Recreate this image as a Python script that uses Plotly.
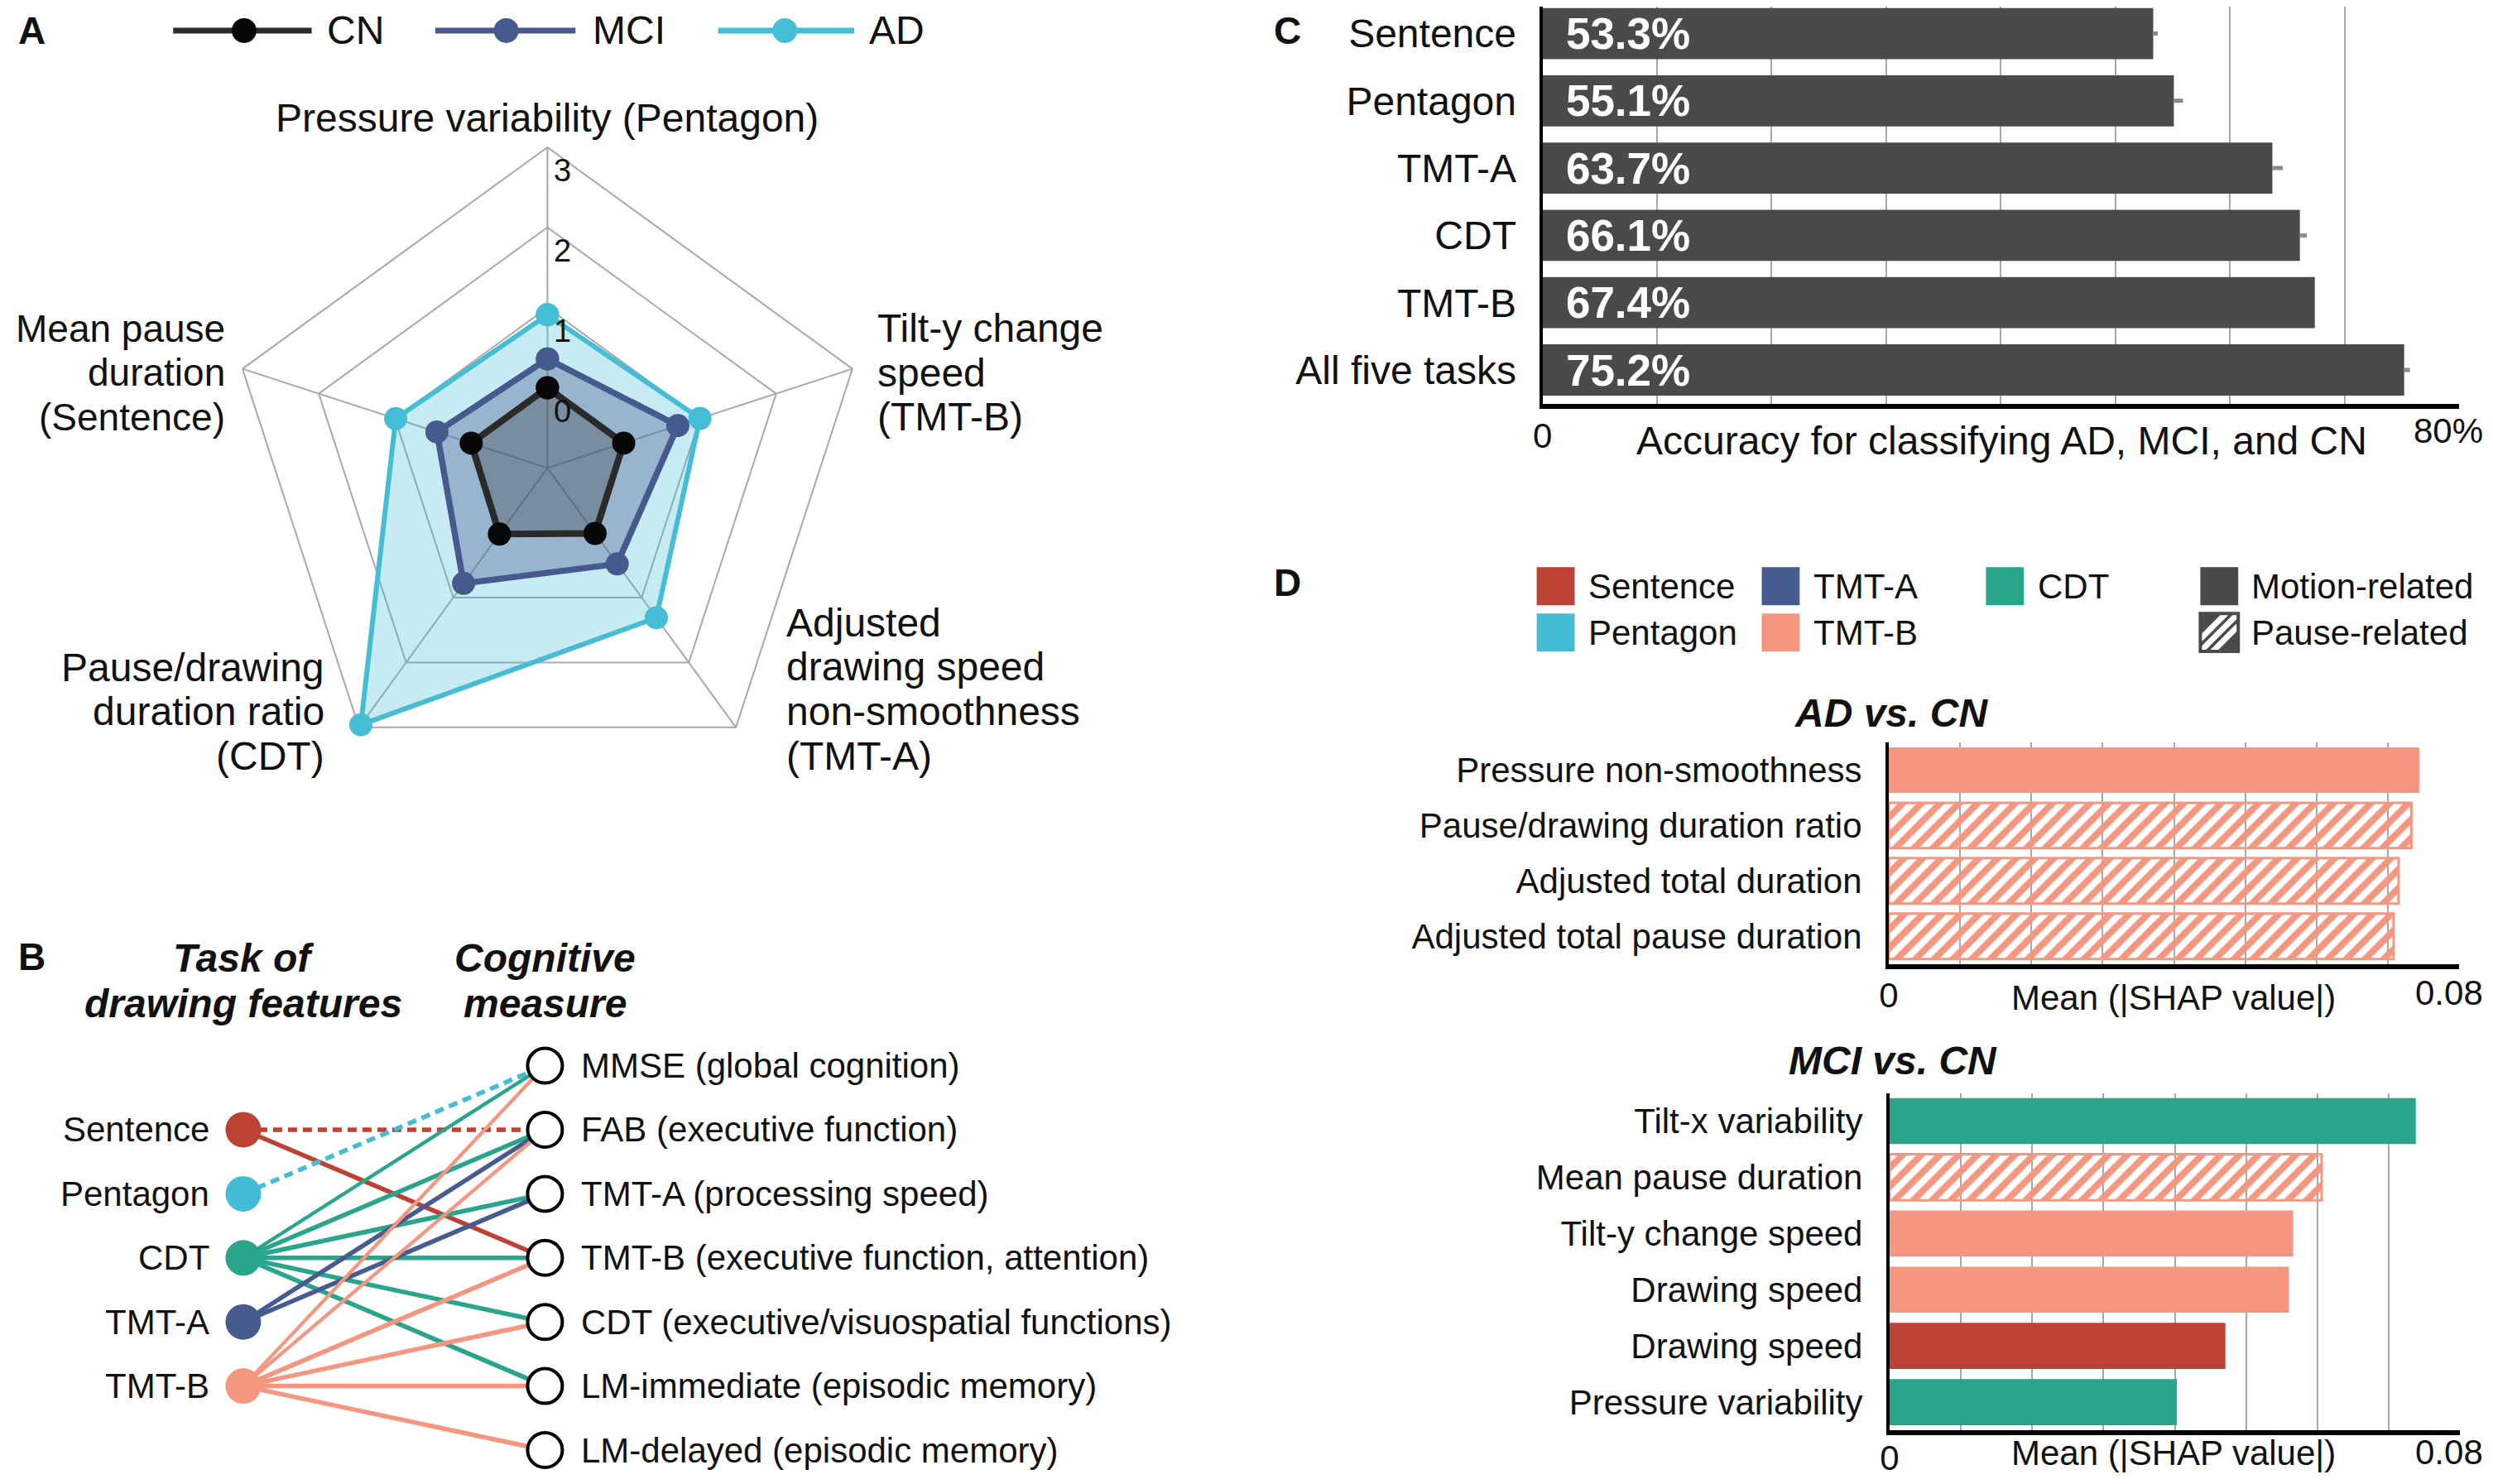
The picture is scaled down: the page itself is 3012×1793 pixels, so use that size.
import plotly.graph_objects as go

# target picture size; the browser keeps its default 8px body margin
W, H = 3012, 1793
PAD = 8
FW, FH = W - 2 * PAD, H - 2 * PAD
FONT = "Liberation Sans, Arial, Helvetica, sans-serif"
INK = "#111111"


def X(p):
    return (p - PAD) / FW


def Y(p):
    return 1 - (p - PAD) / FH


# ---------------- Panel A data ----------------
radar_features = [
    "Pressure variability (Pentagon)",
    "Tilt-y change speed (TMT-B)",
    "Adjusted drawing speed non-smoothness (TMT-A)",
    "Pause/drawing duration ratio (CDT)",
    "Mean pause duration (Sentence)",
]
radar_label_lines = [
    ["Pressure variability (Pentagon)"],
    ["Tilt-y change", "speed", "(TMT-B)"],
    ["Adjusted", "drawing speed", "non-smoothness", "(TMT-A)"],
    ["Pause/drawing", "duration ratio", "(CDT)"],
    ["Mean pause", "duration", "(Sentence)"],
]
radar_groups = ["CN", "MCI", "AD"]
radar_cn = [0.0, 0.0, 0.01, 0.02, 0.0]
radar_mci = [0.36, 0.71, 0.48, 0.78, 0.45]
radar_ad = [0.91, 1.00, 1.31, 2.96, 0.99]
radar_ticks = [0, 1, 2, 3]
radar_axis_min, radar_axis_max = -1, 3   # the centre of the radar is -1

# ---------------- Panel B data ----------------
task_names = ["Sentence", "Pentagon", "CDT", "TMT-A", "TMT-B"]
measure_short = ["MMSE", "FAB", "TMT-A", "TMT-B", "CDT", "LM-immediate", "LM-delayed"]
measure_desc = ["global cognition", "executive function", "processing speed",
                "executive function, attention", "executive/visuospatial functions",
                "episodic memory", "episodic memory"]
edge_task = ["Sentence", "Sentence", "Pentagon",
             "CDT", "CDT", "CDT", "CDT", "CDT", "CDT",
             "TMT-A", "TMT-A",
             "TMT-B", "TMT-B", "TMT-B", "TMT-B", "TMT-B", "TMT-B"]
edge_measure = ["FAB", "TMT-B", "MMSE",
                "MMSE", "FAB", "TMT-A", "TMT-B", "CDT", "LM-immediate",
                "FAB", "TMT-A",
                "MMSE", "FAB", "TMT-B", "CDT", "LM-immediate", "LM-delayed"]
edge_dashed = [True, False, True,
               False, False, False, False, False, False,
               False, False,
               False, False, False, False, False, False]
edge_strong = [True, True, True,
               False, True, True, True, True, True,
               True, True,
               False, False, True, True, True, True]

# ---------------- Panel C data ----------------
acc_tasks = ["Sentence", "Pentagon", "TMT-A", "CDT", "TMT-B", "All five tasks"]
acc_values = [53.3, 55.1, 63.7, 66.1, 67.4, 75.2]
acc_errors = [0.4, 0.8, 0.9, 0.6, 0.0, 0.5]
acc_range = [0, 80]
acc_tick_labels = ["0", "80%"]

# ---------------- Panel D data ----------------
ad_features = ["Pressure non-smoothness", "Pause/drawing duration ratio",
               "Adjusted total duration", "Adjusted total pause duration"]
ad_values = [0.0744, 0.0733, 0.0715, 0.0708]
ad_tasks = ["TMT-B", "TMT-B", "TMT-B", "TMT-B"]
ad_kinds = ["Motion-related", "Pause-related", "Pause-related", "Pause-related"]

mci_features = ["Tilt-x variability", "Mean pause duration", "Tilt-y change speed",
                "Drawing speed", "Drawing speed", "Pressure variability"]
mci_values = [0.0738, 0.0606, 0.0566, 0.0560, 0.0471, 0.0403]
mci_tasks = ["CDT", "TMT-B", "TMT-B", "TMT-B", "Sentence", "CDT"]
mci_kinds = ["Motion-related", "Pause-related", "Motion-related",
             "Motion-related", "Motion-related", "Motion-related"]
shap_range = [0, 0.08]
shap_tick_labels = ["0", "0.08"]

feature_kinds = ["Motion-related", "Pause-related"]

# ---------------- styles ----------------
task_color = {"Sentence": "#bd4236", "Pentagon": "#44bdd4", "CDT": "#29a58b",
              "TMT-A": "#465b8e", "TMT-B": "#f59680"}
group_line = {"CN": "#2a2a2a", "MCI": "#465a8d", "AD": "#45bdd4"}
group_marker = {"CN": "#080808", "MCI": "#465a8d", "AD": "#45bdd4"}
group_fill = {"CN": "rgba(40,40,40,0.28)", "MCI": "rgba(71,90,140,0.37)",
              "AD": "rgba(69,189,212,0.30)"}
group_width = {"CN": 8, "MCI": 7.5, "AD": 6}
GRID = "#a8a8a8"
DARK = "#4a4a4c"
BIG, SMALL = 48, 42

fig = go.Figure()

# ================= Panel A : radar =================
# radial distance is measured from the radar centre (value -1), so the
# plotted radius is value - radar_axis_min; ticks are labelled with the values.
radar_values = {"CN": radar_cn, "MCI": radar_mci, "AD": radar_ad}
for g in ["AD", "MCI", "CN"]:
    v = [val - radar_axis_min for val in radar_values[g]]
    fig.add_trace(go.Scatterpolar(
        r=v + [v[0]], theta=radar_features + [radar_features[0]],
        mode="lines+markers", fill="toself", fillcolor=group_fill[g],
        line=dict(color=group_line[g], width=group_width[g]),
        marker=dict(size=28, color=group_marker[g], line=dict(width=0)),
        name=g, showlegend=False, hoverinfo="skip", subplot="polar"))

cx, cy, R = 652, 566, 389
polar = dict(
    domain=dict(x=[X(cx - R), X(cx + R)], y=[Y(cy + R), Y(cy - R)]),
    gridshape="linear", bgcolor="rgba(0,0,0,0)",
    angularaxis=dict(direction="clockwise", rotation=90, showticklabels=False,
                     ticks="", showgrid=True, gridcolor=GRID, gridwidth=2,
                     showline=True, linecolor=GRID, linewidth=2, layer="below traces",
                     categoryorder="array", categoryarray=radar_features),
    radialaxis=dict(range=[0, radar_axis_max - radar_axis_min],
                    tickvals=[t - radar_axis_min for t in radar_ticks],
                    ticktext=[str(t) for t in radar_ticks], showline=False,
                    showgrid=True, gridcolor=GRID, gridwidth=2, ticks="",
                    showticklabels=False, angle=90, layer="below traces"),
)

# ================= Panel B : network =================
col_task, col_measure = "Task of drawing features", "Cognitive measure"
offset = (len(measure_short) - len(task_names)) / 2
task_y = [i + offset for i in range(len(task_names))]
measure_y = list(range(len(measure_short)))
for s, t, d, strong in zip(edge_task, edge_measure, edge_dashed, edge_strong):
    fig.add_trace(go.Scatter(
        x=[col_task, col_measure],
        y=[task_y[task_names.index(s)], measure_y[measure_short.index(t)]],
        mode="lines",
        line=dict(color=task_color[s], width=5.5 if strong else 4.3,
                  dash="11px,7px" if d else "solid"),
        xaxis="x", yaxis="y", showlegend=False, hoverinfo="skip"))
fig.add_trace(go.Scatter(
    x=[col_task] * len(task_names), y=task_y, mode="markers",
    marker=dict(size=43, color=[task_color[t] for t in task_names], line=dict(width=0)),
    cliponaxis=False, xaxis="x", yaxis="y", showlegend=False, hoverinfo="skip"))
fig.add_trace(go.Scatter(
    x=[col_measure] * len(measure_short), y=measure_y, mode="markers",
    marker=dict(size=42, color="white", line=dict(color="black", width=4)),
    cliponaxis=False, xaxis="x", yaxis="y", showlegend=False, hoverinfo="skip"))
for t, yv in zip(task_names, task_y):
    fig.add_annotation(text=t, x=col_task, y=yv, xref="x", yref="y",
                       xanchor="right", xshift=-39, showarrow=False,
                       font=dict(size=SMALL, family=FONT, color=INK))
for m, dsc, yv in zip(measure_short, measure_desc, measure_y):
    fig.add_annotation(text=f"{m} ({dsc})", x=col_measure, y=yv, xref="x", yref="y",
                       xanchor="left", xshift=42, showarrow=False,
                       font=dict(size=SMALL, family=FONT, color=INK))
b_head = {col_task: ["Task of", "drawing features"], col_measure: ["Cognitive", "measure"]}
for col, lines in b_head.items():
    for k, ln in enumerate(lines):
        fig.add_annotation(text=ln, x=col, y=Y(1159 + 55 * k), xref="x", yref="paper",
                           xanchor="center", yanchor="middle", showarrow=False,
                           font=dict(size=BIG, family=FONT, color=INK,
                                     weight="bold", style="italic"))

# ================= Panel C : accuracy bars =================
fig.add_trace(go.Bar(
    x=acc_values, y=acc_tasks, orientation="h", width=0.76,
    marker=dict(color=DARK, line=dict(width=0)),
    error_x=dict(type="data", array=acc_errors, arrayminus=[0] * len(acc_errors),
                 symmetric=False, color="#8a8a8e", thickness=5, width=0),
    texttemplate="\u00a0\u2009%{x:.1f}%", textposition="inside",
    insidetextanchor="start", textangle=0, constraintext="none",
    textfont=dict(color="white", size=53, family=FONT, weight="bold"),
    xaxis="x2", yaxis="y2", showlegend=False, hoverinfo="skip"))


# ================= Panel D : SHAP bars =================
def shap_trace(vals, tasks, kinds, xa, ya):
    cols = [task_color[t] for t in tasks]
    return go.Bar(
        x=vals, y=list(range(len(vals))), orientation="h", width=0.82,
        marker=dict(
            color=cols,
            line=dict(color=cols, width=[3 if k == "Pause-related" else 0 for k in kinds]),
            pattern=dict(shape=["/" if k == "Pause-related" else "" for k in kinds],
                         fgcolor=cols, bgcolor="rgba(255,255,255,0)",
                         fillmode="replace", size=16, solidity=0.5)),
        xaxis=xa, yaxis=ya, showlegend=False, hoverinfo="skip")


fig.add_trace(shap_trace(ad_values, ad_tasks, ad_kinds, "x3", "y3"))
fig.add_trace(shap_trace(mci_values, mci_tasks, mci_kinds, "x4", "y4"))

# ================= axes =================
axis_off = dict(visible=False, showgrid=False, zeroline=False, fixedrange=True)
ux = 366.0  # px per column unit
uy = 77.5   # px per row
BX, BY = -5, 4  # small nudge of panel B
fig.update_layout(
    xaxis=dict(axis_off, type="category", categoryorder="array",
               categoryarray=[col_task, col_measure],
               domain=[X(258 + BX), X(684 + BX)], range=[-30 / ux, 1 + 30 / ux], anchor="y"),
    yaxis=dict(axis_off, domain=[Y(1780 + BY), Y(1255 + BY)],
               range=[len(measure_short) - 1 + 30 / uy, -30 / uy], anchor="x"),
)


def bar_x(dom, rng, labels, minor, standoff=-4):
    return dict(domain=dom, range=rng, tickvals=rng, ticktext=[labels[0], ""],
                showgrid=True, gridcolor=GRID, gridwidth=2,
                minor=dict(dtick=minor, showgrid=True, gridcolor=GRID, gridwidth=2, ticks=""),
                showline=True, linecolor="black", linewidth=6, zeroline=False,
                ticks="", ticklabelstandoff=standoff, fixedrange=True,
                tickfont=dict(size=SMALL, family=FONT, color=INK), layer="below traces")


def bar_y(dom, size, standoff):
    return dict(domain=dom, showgrid=False, zeroline=False, showline=True,
                linecolor="black", linewidth=4, ticks="", ticklabelstandoff=standoff,
                fixedrange=True, tickfont=dict(size=size, family=FONT, color=INK))


n_acc = len(acc_tasks)
fig.update_layout(
    xaxis2=dict(bar_x([X(1859), X(2971)], acc_range, acc_tick_labels, 10), anchor="y2"),
    yaxis2=dict(bar_y([Y(489), Y(8)], BIG, 18), type="category", categoryorder="array",
                categoryarray=acc_tasks, range=[n_acc - 0.49, -0.40], anchor="x2"),
    xaxis3=dict(bar_x([X(2279), X(2971)], shap_range, shap_tick_labels, 0.01), anchor="y3"),
    yaxis3=dict(bar_y([Y(1166), Y(898)], SMALL, 20), range=[len(ad_features) - 0.5, -0.5],
                tickvals=list(range(len(ad_features))), ticktext=ad_features, anchor="x3"),
    xaxis4=dict(bar_x([X(2280), X(2972)], shap_range, shap_tick_labels, 0.01, standoff=-8),
                anchor="y4"),
    yaxis4=dict(bar_y([Y(1730), Y(1322)], SMALL, 20), range=[len(mci_features) - 0.5, -0.5],
                tickvals=list(range(len(mci_features))), ticktext=mci_features, anchor="x4"),
)


# ================= text annotations =================
def ann(text, x, y, size=SMALL, anchor="center", bold=False, italic=False):
    fig.add_annotation(text=text, x=X(x), y=Y(y), xref="paper", yref="paper",
                       xanchor=anchor, yanchor="middle", showarrow=False,
                       font=dict(size=size, family=FONT, color=INK,
                                 weight="bold" if bold else "normal",
                                 style="italic" if italic else "normal"))


# panel letters
for letter, (lx, ly) in zip("ABCD", [(27, 37), (27, 1157), (1550, 37), (1550, 705)]):
    ann(letter, lx, ly, size=46, bold=True)

# radial tick labels (just right of the top spoke, a little below each ring)
for t in radar_ticks:
    frac = (t - radar_axis_min) / (radar_axis_max - radar_axis_min)
    ann(str(t), cx + 18, cy - frac * R + 29, size=38)

# radar axis labels
radar_label_pos = [(652, 143, "center", BIG), (1050, 397, "left", BIG),
                   (940, 753, "left", BIG), (384, 807, "right", BIG),
                   (263, 397, "right", 46)]
for lines, (lx, ly, la, fs) in zip(radar_label_lines, radar_label_pos):
    for k, ln in enumerate(lines):
        ann(ln, lx, ly + 53.7 * k, size=fs, anchor=la)

# radar legend (custom swatches)
shapes = []
LY = 37
legend_a_pos = [(198, 366, 284, 382), (516, 686, 602, 705), (859, 1024, 940, 1040)]
for g, (x0, x1, mx, tx) in zip(radar_groups, legend_a_pos):
    shapes.append(dict(type="line", xref="paper", yref="paper", x0=X(x0), x1=X(x1),
                       y0=Y(LY), y1=Y(LY), line=dict(color=group_line[g], width=7)))
    shapes.append(dict(type="circle", xref="paper", yref="paper", x0=X(mx - 15), x1=X(mx + 15),
                       y0=Y(LY + 15), y1=Y(LY - 15), fillcolor=group_marker[g],
                       line=dict(color=group_marker[g], width=0)))
    ann(g, tx, LY, size=BIG, anchor="left")

# panel C axis title and end tick label
ann("Accuracy for classifying AD, MCI, and CN", 2416, 533, size=BIG)
ann(acc_tick_labels[-1], 3002, 521, size=SMALL, anchor="right")

# panel D titles, axis titles, end tick labels
ann("AD vs. CN", 2282, 862, size=BIG, bold=True, italic=True)
ann("MCI vs. CN", 2284, 1283, size=BIG, bold=True, italic=True)
ann("Mean (|SHAP value|)", 2624, 1207, size=SMALL)
ann("Mean (|SHAP value|)", 2624, 1757, size=SMALL)
ann(shap_tick_labels[-1], 3002, 1201, size=SMALL, anchor="right")
ann(shap_tick_labels[-1], 3002, 1756, size=SMALL, anchor="right")

# panel D legend (custom swatches)
legend_task_order = ["Sentence", "Pentagon", "TMT-A", "TMT-B", "CDT"]
legend_task_pos = [(1852, 686), (1852, 742), (2125, 686), (2125, 742), (2397, 686)]
SW = 46
for t, (sx, sy) in zip(legend_task_order, legend_task_pos):
    shapes.append(dict(type="rect", xref="paper", yref="paper", x0=X(sx), x1=X(sx + SW),
                       y0=Y(sy + SW), y1=Y(sy), fillcolor=task_color[t], line=dict(width=0)))
    ann(t, sx + SW + 15, sy + SW / 2, size=SMALL, anchor="left")
kind_pos = [(2657, 686), (2657, 742)]
for k, (sx, sy) in zip(feature_kinds, kind_pos):
    shapes.append(dict(type="rect", xref="paper", yref="paper", x0=X(sx), x1=X(sx + SW),
                       y0=Y(sy + SW), y1=Y(sy), fillcolor=DARK, line=dict(width=0)))
    if k == "Pause-related":
        x0, x1, y0, y1 = sx, sx + SW, sy, sy + SW
        for dd in (-15, 0, 15):
            if dd <= 0:
                p0, p1 = (x0, y1 + dd), (x1 + dd, y0)
            else:
                p0, p1 = (x0 + dd, y1), (x1, y0 + dd)
            shapes.append(dict(type="line", xref="paper", yref="paper",
                               x0=X(p0[0]), y0=Y(p0[1]), x1=X(p1[0]), y1=Y(p1[1]),
                               line=dict(color="white", width=7)))
        shapes.append(dict(type="rect", xref="paper", yref="paper", x0=X(sx), x1=X(sx + SW),
                           y0=Y(sy + SW), y1=Y(sy), fillcolor="rgba(0,0,0,0)",
                           line=dict(color=DARK, width=4)))
    ann(k, sx + SW + 14, sy + SW / 2, size=SMALL, anchor="left")

fig.update_layout(
    width=FW, height=FH, autosize=False,
    margin=dict(l=0, r=0, t=0, b=0, pad=0),
    paper_bgcolor="white", plot_bgcolor="rgba(0,0,0,0)",
    font=dict(family=FONT, color=INK, size=SMALL),
    polar=polar, shapes=shapes, showlegend=False,
)

fig.write_html("out.html", config={"displayModeBar": False, "responsive": False})
